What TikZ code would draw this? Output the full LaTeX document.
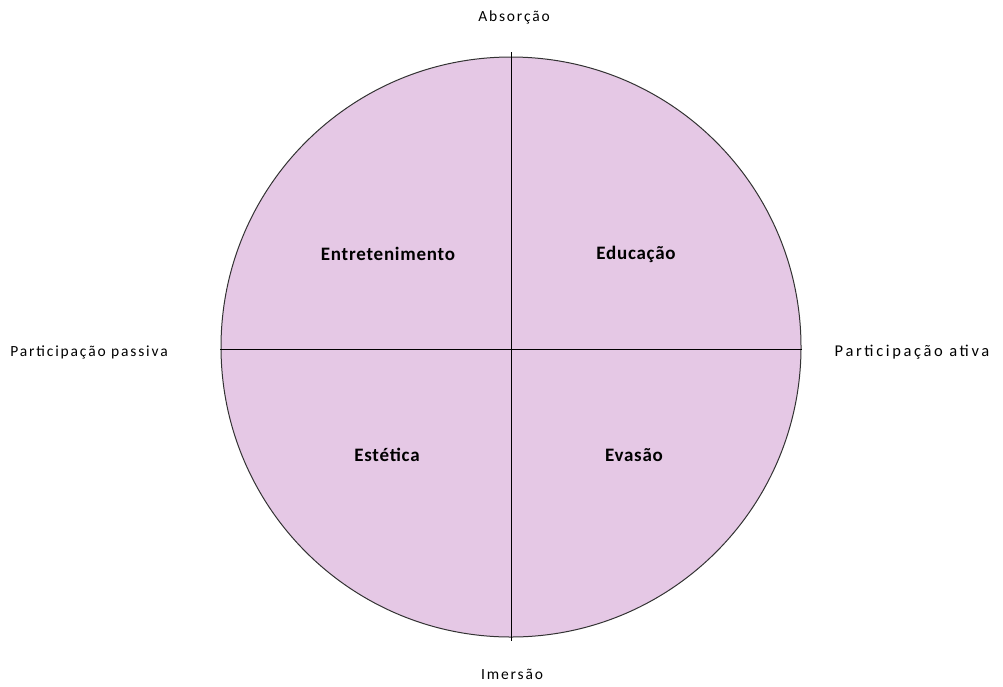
\documentclass[tikz,border=0pt]{standalone}
\usepackage{fontspec}
\setmainfont{Carlito}
\newfontfamily\eixofont[LetterSpace=12]{Carlito}
\newfontfamily\largofont[LetterSpace=16]{Carlito}
\newfontfamily\reinofont[LetterSpace=4]{Carlito}
\definecolor{lilas}{RGB}{229,200,229}
\tikzstyle{eixo}=[font=\eixofont\fontsize{15.5}{18}\selectfont]
\tikzstyle{eixolargo}=[font=\largofont\fontsize{16.5}{19}\selectfont]
\tikzstyle{reino}=[font=\reinofont\bfseries\fontsize{19}{22}\selectfont]

\begin{document}
\begin{tikzpicture}[x=1pt,y=-1pt]
        \useasboundingbox (0,0) rectangle (1003,686);
        \fill[lilas] (511,347) circle (290);
        \draw[line width=1pt,black!80] (511,347) circle (290);
        \coordinate (topo) at (511,52);
        \coordinate (base) at (511,641);
        \coordinate (esq) at (220,349);
        \coordinate (dir) at (802,349);
        \draw (topo) -- (base);
        \draw (esq) -- (dir);
        \node[eixo] (abs) at (514,17) {Absorção};
        \node[eixo] (ime) at (512,674) {Imersão};
        \node[eixo] (pas) at (89,352) {Participação passiva};
        \node[eixolargo] (ati) at (912,352) {Participação ativa};
        \node[reino] (ent) at (388,254) {Entretenimento};
        \node[reino] (edu) at (636,254) {Educação};
        \node[reino] (est) at (387,455) {Estética};
        \node[reino] (eva) at (634,455) {Evasão};
    \end{tikzpicture}
\end{document}
